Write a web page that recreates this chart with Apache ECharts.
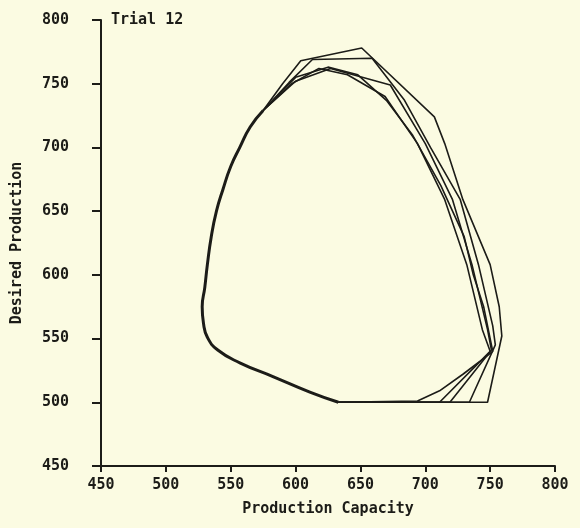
<!DOCTYPE html>
<html>
<head>
<meta charset="utf-8">
<script src="https://cdn.jsdelivr.net/npm/echarts@6/dist/echarts.min.js"></script>
<style>
  html, body { margin: 0; padding: 0; background: #fbfbe2; }
  #chart { width: 580px; height: 528px; }
</style>
</head>
<body>
<div id="chart"></div>
<script>
// Axis ticks (both axes share the same range)
const axisTicks = [450, 500, 550, 600, 650, 700, 750, 800];

// Common left-hand arc where all cycles settle onto the same path
const arcCapacity = [575, 565, 557, 550, 544, 539, 535, 532, 530, 528, 529, 532, 540, 557, 583, 611, 633];
const arcDesired  = [729, 716, 700, 685, 667, 650, 630, 608, 590, 575, 562, 551, 541, 531, 520, 508, 500];

// Individual cycles: from the floor at 500 round the right side and over the top
const cycle1Capacity = [633, 694, 748, 759, 757, 750, 729, 715, 707, 651, 604, 590, 575];
const cycle1Desired  = [500, 500, 500, 552, 575, 608, 659, 703, 724, 778, 768, 750, 729];

const cycle2Capacity = [633, 694, 734, 754, 752, 741, 727, 704, 684, 659, 613, 595, 575];
const cycle2Desired  = [500, 500, 500, 545, 560, 608, 659, 700, 737, 770, 769, 751, 729];

const cycle3Capacity = [633, 694, 719, 751, 748, 736, 721, 700, 673, 627, 600, 575];
const cycle3Desired  = [500, 500, 500, 541, 557, 608, 659, 703, 749, 762, 752, 729];

const cycle4Capacity = [633, 694, 711, 750, 744, 732, 715, 694, 669, 640, 618, 597, 575];
const cycle4Desired  = [500, 500, 500, 540, 557, 608, 659, 703, 740, 757, 762, 750, 729];

const cycle5Capacity = [633, 694, 711, 729, 742, 752, 745, 737, 730, 712, 690, 670, 648, 625, 600, 575];
const cycle5Desired  = [500, 501, 509, 522, 532, 540, 575, 600, 630, 670, 710, 737, 757, 763, 755, 729];

const cycles = [
  [cycle1Capacity, cycle1Desired],
  [cycle2Capacity, cycle2Desired],
  [cycle3Capacity, cycle3Desired],
  [cycle4Capacity, cycle4Desired],
  [cycle5Capacity, cycle5Desired]
];

function pairs(xs, ys) {
  return xs.map((x, i) => [x, ys[i]]);
}

const ink = '#1c1c18';
const labelFont = {
  color: ink,
  fontFamily: 'DejaVu Sans Mono',
  fontWeight: 'bold',
  fontSize: 15
};

const series = cycles.map(([xs, ys]) => ({
  type: 'line',
  data: pairs(xs, ys),
  showSymbol: false,
  smooth: false,
  lineStyle: { color: ink, width: 1.6 },
  animation: false
}));

series.push({
  type: 'line',
  data: pairs(arcCapacity, arcDesired),
  showSymbol: false,
  smooth: true,
  lineStyle: { color: ink, width: 3 },
  animation: false
});

const chart = echarts.init(document.getElementById('chart'), null, { renderer: 'canvas' });
chart.setOption({
  backgroundColor: '#fbfbe2',
  animation: false,
  grid: { left: 101, right: 25, top: 20, bottom: 62 },
  title: {
    text: 'Trial 12',
    left: 106,
    top: 8,
    textStyle: { color: ink, fontFamily: 'DejaVu Sans Mono', fontWeight: 'bold', fontSize: 15 }
  },
  xAxis: {
    type: 'value',
    min: axisTicks[0],
    max: axisTicks[axisTicks.length - 1],
    interval: 50,
    name: 'Production Capacity',
    nameLocation: 'middle',
    nameGap: 36,
    nameTextStyle: labelFont,
    axisLine: { lineStyle: { color: ink, width: 2 } },
    axisTick: { inside: false, length: 6, lineStyle: { color: ink, width: 2 } },
    axisLabel: Object.assign({ margin: 12 }, labelFont),
    splitLine: { show: false }
  },
  yAxis: {
    type: 'value',
    min: axisTicks[0],
    max: axisTicks[axisTicks.length - 1],
    interval: 50,
    name: 'Desired Production',
    nameLocation: 'middle',
    nameGap: 76,
    nameTextStyle: labelFont,
    axisLine: { lineStyle: { color: ink, width: 2 } },
    axisTick: { inside: false, length: 9, lineStyle: { color: ink, width: 2 } },
    axisLabel: Object.assign({ margin: 32 }, labelFont),
    splitLine: { show: false }
  },
  series: series
});
</script>
</body>
</html>
